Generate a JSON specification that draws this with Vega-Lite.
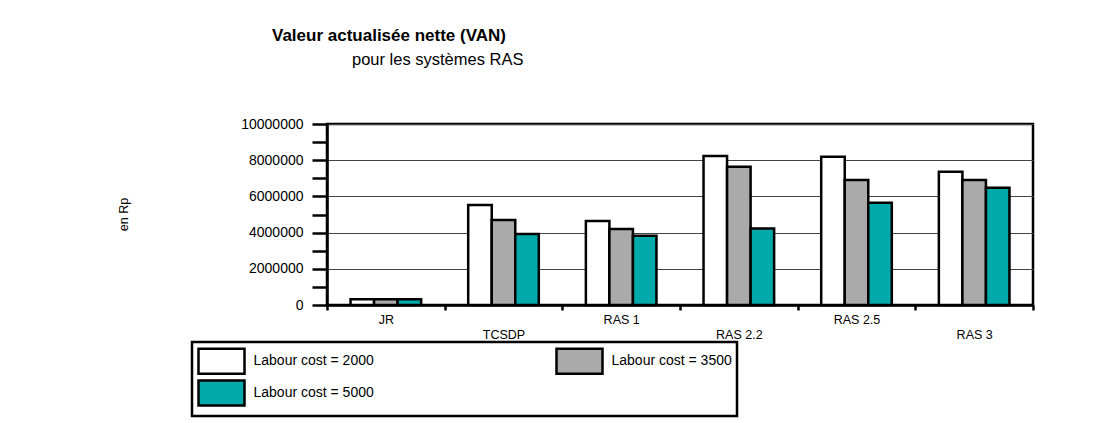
{
  "$schema": "https://vega.github.io/schema/vega-lite/v6.json",
  "autosize": {"type": "none"},
  "padding": {"left": 327, "top": 124, "right": 63, "bottom": 118},
  "width": 706,
  "height": 181,
  "background": "white",
  "config": {
    "font": "Liberation Sans",
    "view": {"stroke": "black", "strokeWidth": 2.5}
  },
  "title": {
    "text": "Valeur actualisée nette (VAN)",
    "subtitle": "pour les systèmes RAS",
    "anchor": "start",
    "frame": "group",
    "dx": -55,
    "offset": 48,
    "font": "Liberation Sans",
    "fontSize": 17,
    "fontWeight": "bold",
    "color": "black",
    "subtitleFont": "Liberation Sans",
    "subtitleFontSize": 16.5,
    "subtitleColor": "black",
    "subtitlePadding": 7,
    "encode": {"subtitle": {"update": {"dx": {"value": 25}}}}
  },
  "data": {
    "values": [
      {"system": "JR", "cost": "2000", "van": 320000},
      {"system": "JR", "cost": "3500", "van": 320000},
      {"system": "JR", "cost": "5000", "van": 320000},
      {"system": "TCSDP", "cost": "2000", "van": 5520000},
      {"system": "TCSDP", "cost": "3500", "van": 4700000},
      {"system": "TCSDP", "cost": "5000", "van": 3920000},
      {"system": "RAS 1", "cost": "2000", "van": 4640000},
      {"system": "RAS 1", "cost": "3500", "van": 4200000},
      {"system": "RAS 1", "cost": "5000", "van": 3830000},
      {"system": "RAS 2.2", "cost": "2000", "van": 8230000},
      {"system": "RAS 2.2", "cost": "3500", "van": 7640000},
      {"system": "RAS 2.2", "cost": "5000", "van": 4220000},
      {"system": "RAS 2.5", "cost": "2000", "van": 8190000},
      {"system": "RAS 2.5", "cost": "3500", "van": 6900000},
      {"system": "RAS 2.5", "cost": "5000", "van": 5650000},
      {"system": "RAS 3", "cost": "2000", "van": 7360000},
      {"system": "RAS 3", "cost": "3500", "van": 6900000},
      {"system": "RAS 3", "cost": "5000", "van": 6480000}
    ]
  },
  "mark": {"type": "bar", "stroke": "black", "strokeWidth": 2.5},
  "encoding": {
    "x": {
      "field": "system",
      "type": "nominal",
      "sort": ["JR", "TCSDP", "RAS 1", "RAS 2.2", "RAS 2.5", "RAS 3"],
      "scale": {"paddingInner": 0, "paddingOuter": 0},
      "axis": {
        "title": null,
        "labelAngle": 0,
        "tickBand": "extent",
        "domainColor": "black",
        "domainWidth": 2.5,
        "tickColor": "black",
        "tickWidth": 2.5,
        "tickSize": 5,
        "labelFontSize": 12.5,
        "labelColor": "black",
        "labelPadding": {"condition": {"test": "indexof(['TCSDP','RAS 2.2','RAS 3'], datum.value) >= 0", "value": 18}, "value": 3},
        "encode": {"ticks": {"update": {"y": {"value": -5}, "y2": {"value": 5}}}}
      }
    },
    "xOffset": {
      "field": "cost",
      "type": "nominal",
      "sort": ["2000", "3500", "5000"],
      "scale": {"paddingInner": 0, "paddingOuter": 1.06}
    },
    "y": {
      "field": "van",
      "type": "quantitative",
      "scale": {"domain": [0, 10000000], "nice": false},
      "axis": {
        "title": "en Rp",
        "titleX": -204,
        "titleY": 90,
        "titleAngle": -90,
        "titleAlign": "center",
        "titleBaseline": "middle",
        "titleFontWeight": "normal",
        "titleFontSize": 12.5,
        "titleColor": "black",
        "values": [0, 1000000, 2000000, 3000000, 4000000, 5000000, 6000000, 7000000, 8000000, 9000000, 10000000],
        "format": "d",
        "labelExpr": "datum.value % 2000000 === 0 ? datum.label : ''",
        "labelFontSize": 14,
        "labelColor": "black",
        "labelPadding": 9,
        "domainColor": "black",
        "domainWidth": 2.5,
        "tickColor": "black",
        "tickWidth": 2.5,
        "tickSize": 15,
        "grid": true,
        "gridColor": "#444444",
        "gridWidth": 1,
        "gridOpacity": {"condition": {"test": "datum.value % 2000000 !== 0", "value": 0}, "value": 1},
        "encode": {"ticks": {"update": {
          "x": {"signal": "datum.value % 2000000 === 0 ? 12 : 9"},
          "x2": {"signal": "datum.value % 2000000 === 0 ? -15 : -10"}
        }}}
      }
    },
    "fill": {
      "field": "cost",
      "type": "nominal",
      "scale": {"domain": ["2000", "3500", "5000"], "range": ["white", "#aaaaaa", "#00aaaa"]},
      "legend": {
        "title": null,
        "orient": "none",
        "legendX": -135,
        "legendY": 218,
        "direction": "horizontal",
        "columns": 2,
        "symbolType": "M-1.84,-1H1.84V1H-1.84Z",
        "symbolSize": 625,
        "symbolOffset": 10.5,
        "symbolStrokeColor": "black",
        "symbolStrokeWidth": 2.5,
        "labelFontSize": 14,
        "labelColor": "black",
        "labelOffset": 18,
        "labelExpr": "'Labour cost = ' + datum.label",
        "strokeColor": "black",
        "fillColor": "white",
        "padding": 5,
        "columnPadding": 177,
        "rowPadding": -4,
        "encode": {"legend": {"update": {"strokeWidth": {"value": 2.5}}}}
      }
    }
  }
}
